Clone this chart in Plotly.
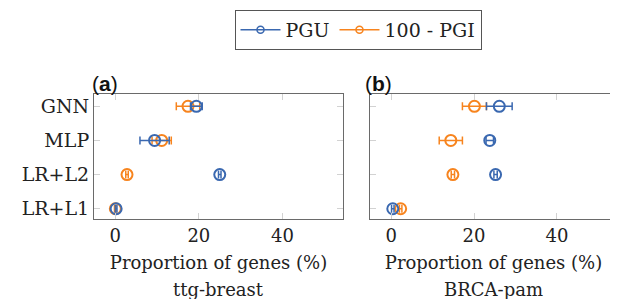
import plotly.graph_objects as go

categories = ["GNN", "MLP", "LR+L2", "LR+L1"]
cat_order = ["LR+L1", "LR+L2", "MLP", "GNN"]

# ttg-breast
a_pgu = [19.4, 9.4, 25.0, 0.2]
a_pgu_err = [1.4, 3.5, 0.3, 0.2]
a_pgi = [17.4, 11.1, 2.8, 0.0]
a_pgi_err = [2.8, 2.3, 0.3, 0.2]

# BRCA-pam
b_pgu = [26.1, 23.8, 25.2, 0.4]
b_pgu_err = [3.1, 0.9, 0.4, 0.3]
b_pgi = [20.1, 14.4, 14.9, 2.3]
b_pgi_err = [2.9, 2.8, 0.4, 0.3]

x_ticks = [0, 20, 40]
series_names = ["PGU", "100 - PGI"]
x_title = "Proportion of genes (%)"
subtitles = ["ttg-breast", "BRCA-pam"]
panel_labels = ["(<b>a</b>)", "(<b>b</b>)"]

BLUE = "#3a68b0"
ORANGE = "#f7841e"
SERIF = "DejaVu Serif"
W, H = 618, 299
OFF = 8  # page body margin in the browser


def px(x):
    return (x - OFF) / W


def py(y):
    return 1 - (y - OFF) / H


fig = go.Figure()

panels = [
    (a_pgu, a_pgu_err, a_pgi, a_pgi_err, "x", "y"),
    (b_pgu, b_pgu_err, b_pgi, b_pgi_err, "x2", "y2"),
]

for pgu, pgu_e, pgi, pgi_e, xa, ya in panels:
    for vals, errs, col in [(pgi, pgi_e, ORANGE), (pgu, pgu_e, BLUE)]:
        fig.add_trace(go.Scatter(
            x=vals, y=categories, mode="markers", xaxis=xa, yaxis=ya,
            showlegend=False,
            marker=dict(symbol="circle-open", size=11, color=col,
                        line=dict(width=2, color=col)),
            error_x=dict(type="data", array=errs, visible=True,
                         color=col, thickness=1.5, width=4),
        ))

# legend entries
for name, col in zip(series_names, [BLUE, ORANGE]):
    fig.add_trace(go.Scatter(
        x=[None], y=[None], mode="lines+markers", name=name,
        xaxis="x", yaxis="y",
        line=dict(color=col, width=1.5),
        marker=dict(symbol="circle-open", size=7, color=col,
                    line=dict(width=1.5, color=col)),
    ))

common_x = dict(range=[-5.1, 54.5], tickvals=x_ticks, ticks="inside",
                ticklen=6, tickcolor="#d2d2d2", showline=True,
                linecolor="#6a6a6a", linewidth=1, mirror="ticks",
                showgrid=False, zeroline=False, automargin=False,
                tickfont=dict(family=SERIF, size=18, color="#222"))
common_y = dict(type="category", categoryorder="array", categoryarray=cat_order,
                range=[-0.3, 3.36], ticks="inside", ticklen=6,
                tickcolor="#d2d2d2", showline=True, linecolor="#6a6a6a",
                linewidth=1, mirror="ticks", showgrid=False, zeroline=False,
                automargin=False,
                tickfont=dict(family=SERIF, size=19, color="#222"))

title_font = dict(family=SERIF, size=18, color="#222")

annotations = []
for i, (lbl, sub) in enumerate(zip(panel_labels, subtitles)):
    lx = [104.5, 378.5][i]
    cx = [(94 + 343) / 2, (370 + 617) / 2][i]
    annotations.append(dict(text=lbl, x=px(lx), y=py(83), xref="paper",
                            yref="paper", showarrow=False, xanchor="center",
                            yanchor="middle",
                            font=dict(family="Liberation Sans", size=21,
                                      color="#111")))
    annotations.append(dict(text=sub, x=px(cx), y=py(289), xref="paper",
                            yref="paper", showarrow=False, xanchor="center",
                            yanchor="middle", font=title_font))

fig.update_layout(
    width=W, height=H,
    margin=dict(l=0, r=0, t=0, b=0),
    paper_bgcolor="white", plot_bgcolor="white",
    xaxis=dict(common_x, domain=[px(94), px(343)], anchor="y",
               title=dict(text=x_title, font=title_font, standoff=11)),
    yaxis=dict(common_y, domain=[py(219), py(94)], anchor="x"),
    xaxis2=dict(common_x, domain=[px(370), px(617)], anchor="y2",
                title=dict(text=x_title, font=title_font, standoff=11)),
    yaxis2=dict(common_y, domain=[py(219), py(94)], anchor="x2",
                showticklabels=False),
    legend=dict(orientation="h", x=px(358), y=py(30),
                xanchor="center", yanchor="middle",
                bordercolor="#555", borderwidth=1, bgcolor="white",
                font=dict(family=SERIF, size=19, color="#222"),
                itemwidth=40, tracegroupgap=0),
    annotations=annotations,
)

fig.write_html("out.html")
